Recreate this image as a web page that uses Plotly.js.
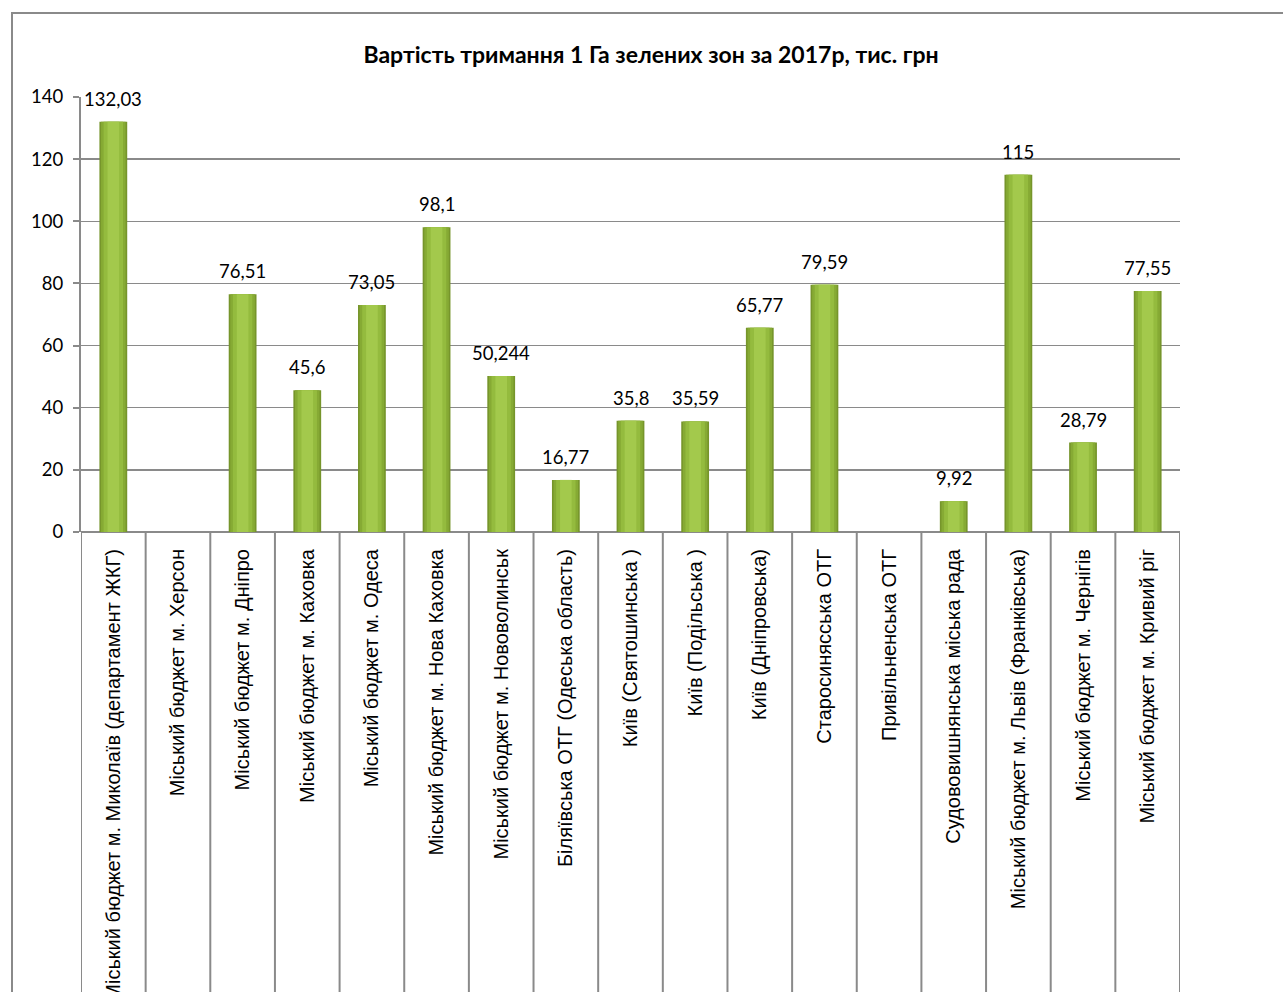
<!DOCTYPE html>
<html>
<head>
<meta charset="utf-8">
<script src="https://cdn.plot.ly/plotly-3.0.1.min.js"></script>
<style>
html,body{margin:0;padding:0;background:#fff;overflow:hidden;}
#frame{position:absolute;left:11px;top:12px;width:1400px;height:1100px;border:2px solid #8a8a8a;pointer-events:none;z-index:5;}
#chart{position:absolute;left:0;top:0;width:1283px;height:992px;}
</style>
</head>
<body>
<div id="chart"></div>
<div id="frame"></div>
<script>
const categories = [
  "Міський бюджет м. Миколаїв (департамент ЖКГ)",
  "Міський бюджет м. Херсон",
  "Міський бюджет м. Дніпро",
  "Міський бюджет м. Каховка",
  "Міський бюджет м. Одеса",
  "Міський бюджет м. Нова Каховка",
  "Міський бюджет м. Нововолинськ",
  "Біляївська ОТГ (Одеська область)",
  "Київ (Святошинська )",
  "Київ (Подільська )",
  "Київ (Дніпровська)",
  "Старосинясська ОТГ",
  "Привільненська ОТГ",
  "Судововишнянська міська рада",
  "Міський бюджет м. Львів (Франківська)",
  "Міський бюджет м. Чернігів",
  "Міський бюджет м. Кривий ріг"
];
const values = [132.03, null, 76.51, 45.6, 73.05, 98.1, 50.244, 16.77, 35.8, 35.59, 65.77, 79.59, null, 9.92, 115, 28.79, 77.55];
const yTicks = [0, 20, 40, 60, 80, 100, 120, 140];
const titleText = "Вартість тримання 1 Га зелених зон за 2017р, тис. грн";

const idx = categories.map((c, i) => i);
const layers = [
  {w: 0.43, c: "#76952b"},
  {w: 0.38, c: "#86aa34"},
  {w: 0.30, c: "#94bb3e"},
  {w: 0.18, c: "#a3c94c"}
];
const traces = layers.map(l => ({
  type: "bar",
  x: idx,
  y: values,
  width: idx.map(() => l.w),
  marker: {color: l.c, line: {width: 0}},
  hoverinfo: "skip",
  showlegend: false
}));

const annotations = values.map((v, i) => v === null ? null : ({
  x: i, y: v, xref: "x", yref: "y",
  text: String(v).replace(".", ","),
  showarrow: false, yanchor: "bottom", yshift: 10,
  font: {family: "Lato, 'Open Sans', sans-serif", size: 18.5, color: "#000"}
})).filter(a => a);

const shapes = [];
for (let i = 0; i <= categories.length; i++) {
  shapes.push({type: "line", xref: "x", yref: "paper", x0: i - 0.5, x1: i - 0.5, y0: 0, y1: -1.2,
    line: {color: "#8a8a8a", width: 2}});
}

const layout = {
  width: 1283, height: 992,
  margin: {l: 81, r: 103, t: 97, b: 460, pad: 0},
  paper_bgcolor: "#fff", plot_bgcolor: "#fff",
  barmode: "overlay",
  title: {text: "<b>" + titleText + "</b>", x: 651 / 1283, xanchor: "center", y: 1 - 55 / 992, yanchor: "middle",
    font: {family: "Lato, 'Open Sans', sans-serif", size: 23, color: "#000"}},
  xaxis: {
    type: "linear", range: [-0.5, categories.length - 0.5],
    tickmode: "array", tickvals: idx, ticktext: categories,
    tickangle: -90, ticks: "", showgrid: false, zeroline: false, showline: false,
    tickfont: {family: "'Liberation Sans', Arial, sans-serif", size: 20, color: "#000"},
    automargin: false, ticklabelstandoff: 12
  },
  yaxis: {
    range: [0, 140], tickmode: "array", tickvals: yTicks,
    ticks: "outside", ticklen: 6, tickcolor: "#8a8a8a", tickwidth: 2,
    showline: true, linecolor: "#8a8a8a", linewidth: 2,
    showgrid: true, gridcolor: "#8a8a8a", gridwidth: 1.5,
    zeroline: true, zerolinecolor: "#8a8a8a", zerolinewidth: 2,
    tickfont: {family: "Lato, 'Open Sans', sans-serif", size: 18.5, color: "#000"},
    automargin: false, ticklabelstandoff: 6
  },
  annotations: annotations,
  shapes: shapes
};
Plotly.newPlot("chart", traces, layout, {displayModeBar: false, staticPlot: true});
</script>
</body>
</html>
